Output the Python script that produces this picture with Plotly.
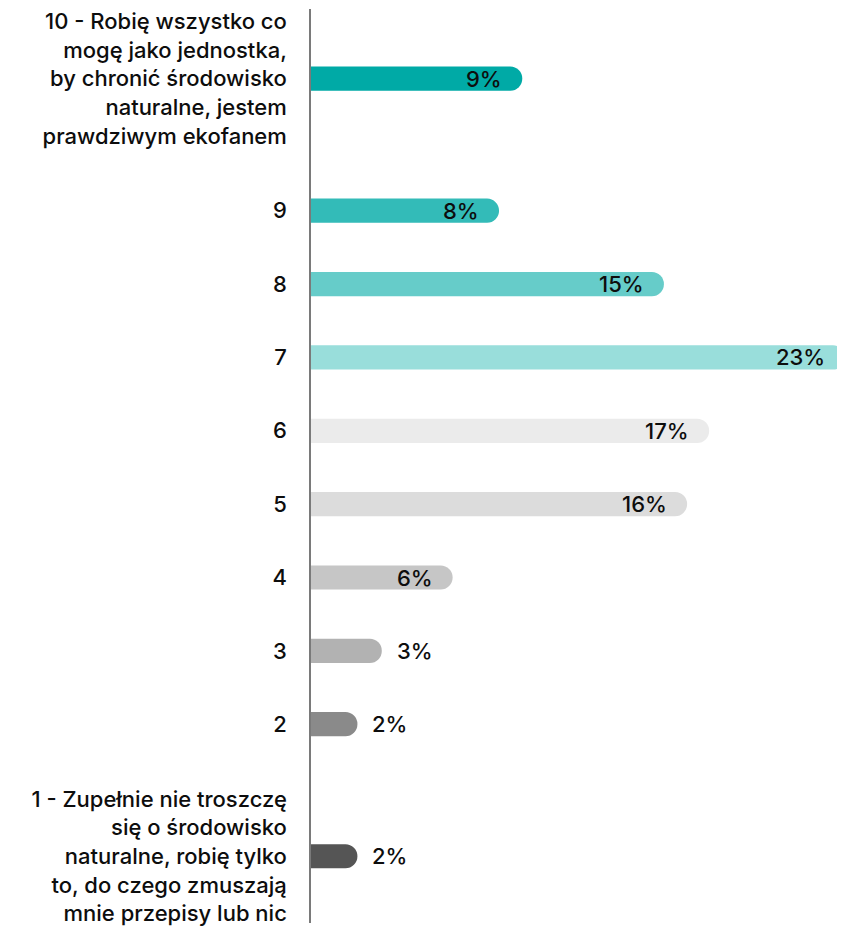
import plotly.graph_objects as go

categories = [
    "10 - Robię wszystko co<br>mogę jako jednostka,<br>by chronić środowisko<br>naturalne, jestem<br>prawdziwym ekofanem",
    "9", "8", "7", "6", "5", "4", "3", "2",
    "1 - Zupełnie nie troszczę<br>się o środowisko<br>naturalne, robię tylko<br>to, do czego zmuszają<br>mnie przepisy lub nic",
]
values = [9.1, 8.1, 15.2, 23.0, 17.15, 16.2, 6.1, 3.05, 2.0, 2.0]
value_labels = ["9%", "8%", "15%", "23%", "17%", "16%", "6%", "3%", "2%", "2%"]
colors = ["#00aaa6", "#33bbb8", "#66ccc9", "#99dedb", "#ebebeb",
          "#dcdcdc", "#c6c6c6", "#b2b2b2", "#8a8a8a", "#555555"]

FONT = "Inter"
FSIZE = 22

# row positions: multi-line labels take more vertical room
lines = [c.count("<br>") + 1 for c in categories]
weights = [1 + 0.4 * (n - 1) for n in lines]
pos = [0.0]
for i in range(1, len(categories)):
    pos.append(pos[-1] + (weights[i - 1] + weights[i]) / 2)

fig = go.Figure()
fig.add_trace(go.Bar(
    x=values, y=pos, orientation="h",
    marker=dict(color=colors, line=dict(width=0), cornerradius=12),
    width=0.33, hoverinfo="skip",
))

for v, p, lab in zip(values, pos, value_labels):
    inside = v >= 5
    fig.add_annotation(
        x=v, y=p, xref="x", yref="y", text=lab, showarrow=False,
        xanchor="right" if inside else "left",
        xshift=-18 if inside else 13,
        font=dict(family=FONT, size=FSIZE, color="#0d0d0d", weight=500),
    )

fig.update_layout(
    width=837, height=918,
    margin=dict(l=303, r=0, t=0, b=0),
    paper_bgcolor="white", plot_bgcolor="white",
    showlegend=False,
    font=dict(family=FONT, size=FSIZE, color="#0d0d0d", weight=500),
    xaxis=dict(range=[0, 23.0], visible=False, fixedrange=True),
    yaxis=dict(
        range=[pos[-1] + 0.91, pos[0] - 0.95],
        tickvals=pos, ticktext=categories,
        showgrid=False, zeroline=False,
        showline=True, linecolor="#7a7a7a", linewidth=1.5,
        ticks="outside", ticklen=18, tickcolor="rgba(0,0,0,0)",
        ticklabeloverflow="allow",
        tickfont=dict(family=FONT, size=FSIZE, color="#0d0d0d", weight=500),
    ),
)

fig.write_html("out.html")
